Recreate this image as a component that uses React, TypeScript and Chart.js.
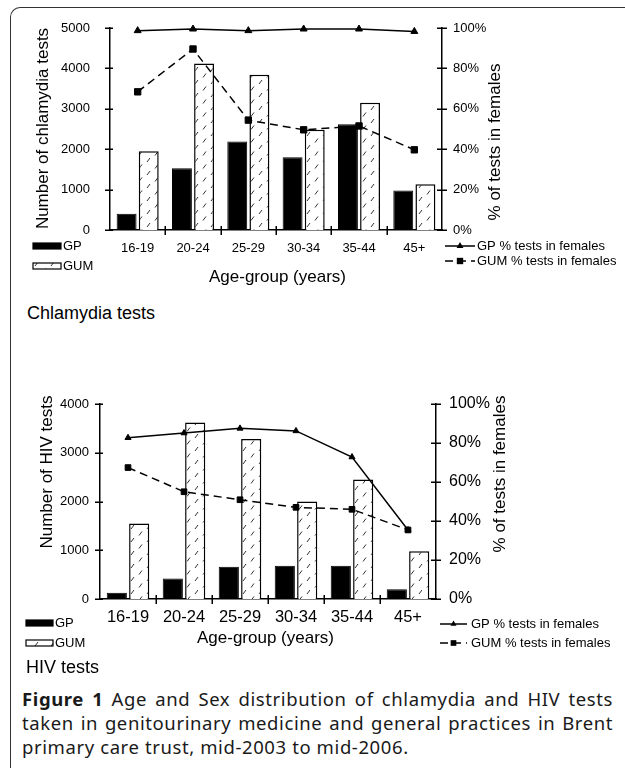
import React, { useEffect, useRef } from "react";
import { Chart, registerables } from "chart.js";

Chart.register(...registerables);

// ---------- data ----------
const ageGroups = ["16-19", "20-24", "25-29", "30-34", "35-44", "45+"];

const chlamydiaGP = [400, 1530, 2190, 1800, 2620, 980];
const chlamydiaGUM = [1950, 4120, 3840, 2480, 3150, 1130];
const chlamydiaGPPctFemale = [98.7, 99.5, 98.7, 99.5, 99.5, 98.3];
const chlamydiaGUMPctFemale = [68.4, 89.6, 54.4, 49.6, 51.5, 39.7];

const hivGP = [130, 420, 660, 680, 680, 200];
const hivGUM = [1550, 3620, 3280, 2000, 2450, 980];
const hivGPPctFemale = [82.7, 85.1, 87.5, 86.2, 72.8, 35.4];
const hivGUMPctFemale = [67.4, 55.0, 50.9, 47.0, 46.0, 35.4];

const seriesLabels = ["GP", "GUM", "GP % tests in females", "GUM % tests in females"];

const chlamydiaCountTicks = [0, 1000, 2000, 3000, 4000, 5000];
const hivCountTicks = [0, 1000, 2000, 3000, 4000];
const pctTicks = [0, 20, 40, 60, 80, 100];

const xAxisTitle = "Age-group (years)";
const pctAxisTitle = "% of tests in females";

// ---------- styling ----------
const FONT = "'Liberation Sans', Arial, sans-serif";
const INK = "#000";

function makeHatch(): CanvasPattern | string {
  const c = document.createElement("canvas");
  c.width = 16;
  c.height = 13;
  const g = c.getContext("2d");
  if (!g) return "#fff";
  g.fillStyle = "#fff";
  g.fillRect(0, 0, 16, 13);
  g.strokeStyle = "#333";
  g.lineWidth = 1;
  g.beginPath();
  g.moveTo(3, 6);
  g.lineTo(6, 2);
  g.moveTo(11, 12.5);
  g.lineTo(14, 8.5);
  g.stroke();
  return g.createPattern(c, "repeat") || "#fff";
}

type PanelCfg = {
  top: number;
  height: number;
  padTop: number;
  leftW: number;
  rightW: number;
  bottomH: number;
  gp: number[];
  gum: number[];
  gpPct: number[];
  gumPct: number[];
  countTicks: number[];
  leftTitle: string;
  leftTitlePos: [number, number];
  rightTitlePos: [number, number];
  xTitlePos: [number, number];
  leftTickFont: number;
  rightTickFont: number;
  xTickFont: number;
  leftTickPad: number;
  rightTickPad: number;
  xTickPad: number;
  triR: number;
  rectR: number;
  barLegend: { x: number; w: number; h: number; rows: [number, number]; textX: number };
  lineLegend: { x: number; w: number; rows: [number, number]; textX: number };
};

function drawTri(ctx: CanvasRenderingContext2D, x: number, y: number, r: number) {
  ctx.beginPath();
  ctx.moveTo(x, y - r);
  ctx.lineTo(x + r * 0.866, y + r * 0.5);
  ctx.lineTo(x - r * 0.866, y + r * 0.5);
  ctx.closePath();
  ctx.fill();
}

function Panel({ cfg }: { cfg: PanelCfg }) {
  const ref = useRef<HTMLCanvasElement>(null);

  useEffect(() => {
    const canvas = ref.current;
    if (!canvas) return;
    const hatch = makeHatch();

    const deco = {
      id: "deco",
      afterDraw(chart: any) {
        const ctx: CanvasRenderingContext2D = chart.ctx;
        const xs = chart.scales.x;
        const ys = chart.scales.y;
        const y1 = chart.scales.y1;
        const a = chart.chartArea;
        ctx.save();
        ctx.strokeStyle = INK;
        ctx.lineWidth = 1.5;
        ctx.beginPath();
        for (const t of ys.ticks) {
          const py = Math.round(ys.getPixelForValue(t.value)) + 0.25;
          ctx.moveTo(a.left - 5, py);
          ctx.lineTo(a.left + 3, py);
        }
        for (const t of y1.ticks) {
          const py = Math.round(y1.getPixelForValue(t.value)) + 0.25;
          ctx.moveTo(a.right - 5, py);
          ctx.lineTo(a.right + 5, py);
        }
        for (let i = 1; i < ageGroups.length; i++) {
          const px = Math.round(xs.getPixelForValue(i - 0.5)) + 0.25;
          ctx.moveTo(px, a.bottom - 4);
          ctx.lineTo(px, a.bottom + 5);
        }
        ctx.stroke();

        // axis titles
        ctx.fillStyle = INK;
        ctx.font = `17px ${FONT}`;
        ctx.textAlign = "center";
        ctx.textBaseline = "middle";
        ctx.save();
        ctx.translate(cfg.leftTitlePos[0], cfg.leftTitlePos[1]);
        ctx.rotate(-Math.PI / 2);
        ctx.fillText(cfg.leftTitle, 0, 0);
        ctx.restore();
        ctx.save();
        ctx.translate(cfg.rightTitlePos[0], cfg.rightTitlePos[1]);
        ctx.rotate(-Math.PI / 2);
        ctx.fillText(pctAxisTitle, 0, 0);
        ctx.restore();
        ctx.fillText(xAxisTitle, cfg.xTitlePos[0], cfg.xTitlePos[1]);

        // legends
        const ds = chart.data.datasets;
        ctx.font = `13px ${FONT}`;
        ctx.textAlign = "left";
        const bl = cfg.barLegend;
        for (let i = 0; i < 2; i++) {
          const cy = bl.rows[i];
          const y0 = cy - bl.h / 2;
          ctx.fillStyle = ds[i].backgroundColor;
          ctx.fillRect(bl.x, y0, bl.w, bl.h);
          ctx.lineWidth = 1.2;
          ctx.strokeStyle = INK;
          ctx.strokeRect(bl.x, y0, bl.w, bl.h);
          ctx.fillStyle = INK;
          ctx.fillText(ds[i].label, bl.textX, cy + 0.5);
        }
        const ll = cfg.lineLegend;
        for (let i = 2; i < 4; i++) {
          const cy = ll.rows[i - 2];
          const d = ds[i];
          ctx.strokeStyle = INK;
          ctx.lineWidth = 1.5;
          ctx.setLineDash(d.borderDash || []);
          ctx.beginPath();
          ctx.moveTo(ll.x, cy);
          ctx.lineTo(ll.x + ll.w, cy);
          ctx.stroke();
          ctx.setLineDash([]);
          ctx.fillStyle = INK;
          const mx = ll.x + ll.w / 2;
          if (d.pointStyle === "triangle") drawTri(ctx, mx, cy, cfg.triR);
          else {
            const s = cfg.rectR * Math.SQRT1_2;
            ctx.fillRect(mx - s, cy - s, 2 * s, 2 * s);
          }
          ctx.fillText(d.label, ll.textX, cy + 0.5);
        }
        ctx.restore();
      },
    };

    const chart = new Chart(canvas, {
      type: "bar",
      data: {
        labels: ageGroups,
        datasets: [
          {
            type: "bar",
            label: seriesLabels[0],
            data: cfg.gp,
            backgroundColor: "#000",
            borderColor: INK,
            borderWidth: 1,
            yAxisID: "y",
            order: 2,
          },
          {
            type: "bar",
            label: seriesLabels[1],
            data: cfg.gum,
            backgroundColor: hatch as any,
            borderColor: INK,
            borderWidth: 1.5,
            yAxisID: "y",
            order: 2,
          },
          {
            type: "line",
            label: seriesLabels[2],
            data: cfg.gpPct,
            borderColor: INK,
            borderWidth: 1.5,
            pointStyle: "triangle",
            pointRadius: cfg.triR,
            pointBackgroundColor: INK,
            pointBorderColor: INK,
            pointBorderWidth: 1,
            yAxisID: "y1",
            order: 1,
            clip: false as any,
          },
          {
            type: "line",
            label: seriesLabels[3],
            data: cfg.gumPct,
            borderColor: INK,
            borderWidth: 1.5,
            borderDash: [8, 5],
            pointStyle: "rect",
            pointRadius: cfg.rectR,
            pointBackgroundColor: INK,
            pointBorderColor: INK,
            pointBorderWidth: 1,
            yAxisID: "y1",
            order: 0,
            clip: false as any,
          },
        ] as any,
      },
      options: {
        animation: false,
        responsive: false,
        maintainAspectRatio: false,
        events: [],
        layout: { padding: { top: cfg.padTop, left: 0, right: 0, bottom: 0 } },
        plugins: { legend: { display: false }, tooltip: { enabled: false }, title: { display: false } },
        scales: {
          x: {
            type: "category",
            offset: true,
            grid: { display: false, drawTicks: false },
            border: { display: true, color: INK, width: 1.5 },
            ticks: {
              color: INK,
              font: { family: FONT, size: cfg.xTickFont },
              padding: cfg.xTickPad,
              maxRotation: 0,
              autoSkip: false,
            },
            afterFit: (s: any) => {
              s.height = cfg.bottomH;
            },
          },
          y: {
            type: "linear",
            position: "left",
            min: cfg.countTicks[0],
            max: cfg.countTicks[cfg.countTicks.length - 1],
            grid: { display: false, drawTicks: false },
            border: { display: true, color: INK, width: 1.5 },
            ticks: {
              color: INK,
              font: { family: FONT, size: cfg.leftTickFont },
              padding: cfg.leftTickPad,
              callback: (v: any) => String(v),
            },
            afterBuildTicks: (s: any) => {
              s.ticks = cfg.countTicks.map((v) => ({ value: v }));
            },
            afterFit: (s: any) => {
              s.width = cfg.leftW;
            },
          },
          y1: {
            type: "linear",
            position: "right",
            min: pctTicks[0],
            max: pctTicks[pctTicks.length - 1],
            grid: { display: false, drawTicks: false },
            border: { display: true, color: INK, width: 1.5 },
            ticks: {
              color: INK,
              font: { family: FONT, size: cfg.rightTickFont },
              padding: cfg.rightTickPad,
              callback: (v: any) => `${v}%`,
            },
            afterBuildTicks: (s: any) => {
              s.ticks = pctTicks.map((v) => ({ value: v }));
            },
            afterFit: (s: any) => {
              s.width = cfg.rightW;
            },
          },
        },
      } as any,
      plugins: [deco as any],
    });

    return () => chart.destroy();
  }, [cfg]);

  return (
    <canvas
      ref={ref}
      width={625}
      height={cfg.height}
      style={{ position: "absolute", left: 0, top: cfg.top, width: 625, height: cfg.height, display: "block" }}
    />
  );
}

const chlamydiaCfg: PanelCfg = {
  top: 0,
  height: 300,
  padTop: 28,
  leftW: 110,
  rightW: 183,
  bottomH: 70,
  gp: chlamydiaGP,
  gum: chlamydiaGUM,
  gpPct: chlamydiaGPPctFemale,
  gumPct: chlamydiaGUMPctFemale,
  countTicks: chlamydiaCountTicks,
  leftTitle: "Number of chlamydia tests",
  leftTitlePos: [43, 128.5],
  rightTitlePos: [495, 142],
  xTitlePos: [277.5, 277],
  leftTickFont: 13,
  rightTickFont: 13,
  xTickFont: 13,
  leftTickPad: 20,
  rightTickPad: 11,
  xTickPad: 11,
  triR: 4,
  rectR: 4.5,
  barLegend: { x: 33, w: 28, h: 6, rows: [246, 266], textX: 63 },
  lineLegend: { x: 445, w: 30, rows: [246, 261], textX: 477 },
};

const hivCfg: PanelCfg = {
  top: 380,
  height: 290,
  padTop: 24,
  leftW: 100,
  rightW: 189,
  bottomH: 71,
  gp: hivGP,
  gum: hivGUM,
  gpPct: hivGPPctFemale,
  gumPct: hivGUMPctFemale,
  countTicks: hivCountTicks,
  leftTitle: "Number of HIV tests",
  leftTitlePos: [47, 92],
  rightTitlePos: [500, 94],
  xTitlePos: [265.5, 258],
  leftTickFont: 13,
  rightTickFont: 16,
  xTickFont: 16.5,
  leftTickPad: 11,
  rightTickPad: 13,
  xTickPad: 9,
  triR: 3.5,
  rectR: 4,
  barLegend: { x: 26, w: 27, h: 6, rows: [243, 263], textX: 55 },
  lineLegend: { x: 440, w: 27, rows: [244, 263], textX: 471 },
};

const captionFont = "'Noto Sans', 'Open Sans', sans-serif";
const justified: React.CSSProperties = {
  width: 591,
  textAlign: "justify",
  textAlignLast: "justify" as any,
  whiteSpace: "normal",
  height: 24,
  overflow: "hidden",
};

export default function App() {
  return (
    <div
      style={{
        position: "absolute",
        left: 0,
        top: 0,
        width: 625,
        height: 771,
        overflow: "hidden",
        background: "#fff",
      }}
    >
      <div
        style={{
          position: "absolute",
          left: 10,
          top: 7,
          width: 640,
          height: 760,
          borderTop: "1px solid #333",
          borderLeft: "1px solid #333",
          borderTopLeftRadius: 10,
        }}
      />
      <Panel cfg={chlamydiaCfg} />
      <Panel cfg={hivCfg} />
      <div
        style={{
          position: "absolute",
          left: 27,
          top: 302,
          fontFamily: FONT,
          fontSize: 18,
          lineHeight: "22px",
          color: INK,
          whiteSpace: "nowrap",
        }}
      >
        Chlamydia tests
      </div>
      <div
        style={{
          position: "absolute",
          left: 26,
          top: 656,
          fontFamily: FONT,
          fontSize: 18,
          lineHeight: "22px",
          color: INK,
          whiteSpace: "nowrap",
        }}
      >
        HIV tests
      </div>
      <div
        style={{
          position: "absolute",
          left: 22,
          top: 687,
          fontFamily: captionFont,
          fontSize: 18.5,
          letterSpacing: "0.6px",
          lineHeight: "24px",
          color: "#1a1a1a",
        }}
      >
        <div style={justified}>
          <b>Figure 1</b> Age and Sex distribution of chlamydia and HIV tests
        </div>
        <div style={justified}>taken in genitourinary medicine and general practices in Brent</div>
        <div style={{ whiteSpace: "nowrap", height: 24 }}>primary care trust, mid-2003 to mid-2006.</div>
      </div>
    </div>
  );
}
